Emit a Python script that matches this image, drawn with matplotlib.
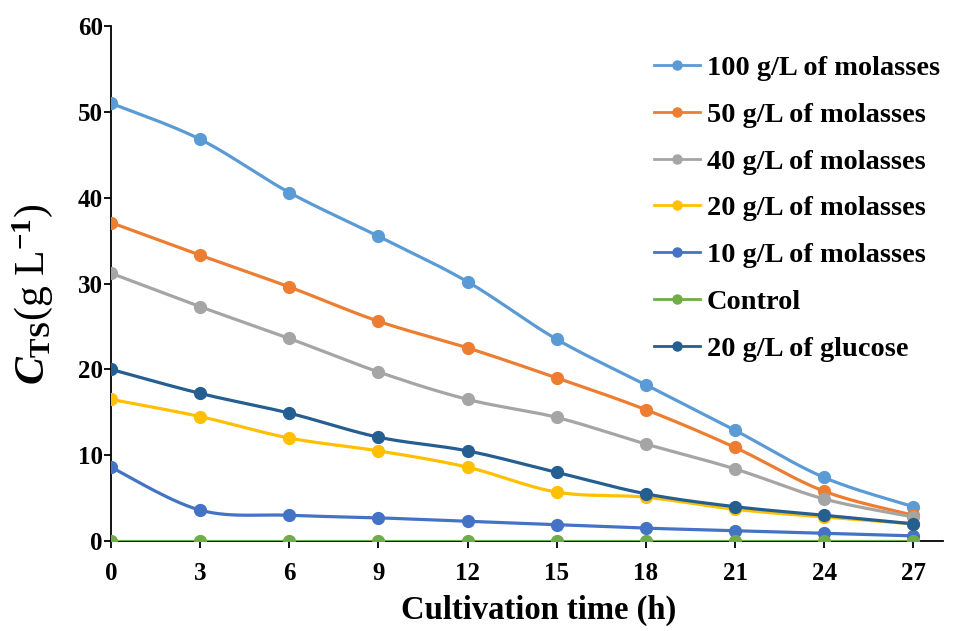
import numpy as np
import matplotlib
matplotlib.use("Agg")
import matplotlib.pyplot as plt

plt.rcParams["font.family"] = ["Liberation Serif", "DejaVu Serif"]
plt.rcParams["font.weight"] = "bold"
plt.rcParams["mathtext.fontset"] = "custom"
plt.rcParams["mathtext.rm"] = "Liberation Serif:bold"
plt.rcParams["mathtext.it"] = "Liberation Serif:italic:bold"
plt.rcParams["mathtext.bf"] = "Liberation Serif:bold"

# dane
time_h = [0, 3, 6, 9, 12, 15, 18, 21, 24, 27]
mol_100 = [51.0, 46.8, 40.6, 35.5, 30.2, 23.5, 18.2, 12.9, 7.4, 4.0]
mol_50 = [37.1, 33.3, 29.6, 25.6, 22.5, 19.0, 15.3, 10.9, 5.8, 3.0]
mol_40 = [31.2, 27.3, 23.6, 19.7, 16.5, 14.4, 11.3, 8.4, 4.9, 2.8]
mol_20 = [16.5, 14.5, 12.0, 10.5, 8.6, 5.7, 5.1, 3.7, 2.8, 2.0]
mol_10 = [8.6, 3.6, 3.0, 2.7, 2.3, 1.9, 1.5, 1.2, 0.9, 0.6]
control = [0, 0, 0, 0, 0, 0, 0, 0, 0, 0]
glucose_20 = [20.0, 17.2, 14.9, 12.1, 10.5, 8.0, 5.5, 4.0, 3.0, 2.0]

labels = ["100 g/L of molasses", "50 g/L of molasses", "40 g/L of molasses",
          "20 g/L of molasses", "10 g/L of molasses", "Control", "20 g/L of glucose"]
series = [mol_100, mol_50, mol_40, mol_20, mol_10, control, glucose_20]
colors = ["#5B9BD5", "#ED7D31", "#A5A5A5", "#FFC000", "#4472C4", "#70AD47", "#255E91"]


def smooth(x, y, n=30):
    """Wygładzanie w stylu Excela (Bezier z punktami kontrolnymi Catmull-Rom)."""
    x = np.asarray(x, float)
    y = np.asarray(y, float)
    xs, ys = [], []
    t = np.linspace(0, 1, n)
    for i in range(len(x) - 1):
        p0 = np.array([x[max(i - 1, 0)], y[max(i - 1, 0)]])
        p1 = np.array([x[i], y[i]])
        p2 = np.array([x[i + 1], y[i + 1]])
        p3 = np.array([x[min(i + 2, len(x) - 1)], y[min(i + 2, len(x) - 1)]])
        c1 = p1 + (p2 - p0) / 6
        c2 = p2 - (p3 - p1) / 6
        b = ((1 - t) ** 3)[:, None] * p1 + (3 * (1 - t) ** 2 * t)[:, None] * c1 \
            + (3 * (1 - t) * t ** 2)[:, None] * c2 + (t ** 3)[:, None] * p2
        xs.extend(b[:, 0])
        ys.extend(b[:, 1])
    return xs, ys


fig = plt.figure(figsize=(9.6, 6.31), dpi=100)
ax = fig.add_axes([0.1156, 0.1426, 0.8667, 0.8162])

for vals, lab, col in zip(series, labels, colors):
    sx, sy = smooth(time_h, vals)
    ax.plot(sx, sy, color=col, lw=2.3, zorder=3)
    ax.plot(time_h, vals, "o", color=col, ms=8.5, zorder=4)
    ax.plot([], [], color=col, lw=2.0, marker="o", ms=6.5, label=lab)

ax.set_xlim(0, 28)
ax.set_ylim(0, 60)
ax.set_xticks(time_h)
ax.set_yticks(range(0, 61, 10))
ax.tick_params(axis="both", labelsize=18, direction="out", length=5, width=1.3)
ax.tick_params(axis="x", pad=10)
ax.tick_params(axis="y", pad=1)
for lbl in ax.get_xticklabels() + ax.get_yticklabels():
    lbl.set_fontweight("bold")

for side in ["top", "right"]:
    ax.spines[side].set_visible(False)
ax.spines["left"].set_linewidth(1.3)
ax.spines["bottom"].set_linewidth(1.3)

ax.set_xlabel("Cultivation time (h)", fontsize=23.5, fontweight="bold")
ax.xaxis.set_label_coords(0.514, -0.104)
ax.set_ylabel(r"$\mathit{C}_{\mathrm{TS}}$(g L$^{\mathrm{-1}}$)", fontsize=30)
ax.yaxis.set_label_coords(-0.067, 0.478)

ax.legend(loc="upper right", bbox_to_anchor=(1.027, 0.993), frameon=False,
          prop={"size": 20.4, "weight": "bold"}, handlelength=1.6,
          handletextpad=0.25, labelspacing=0.74)

plt.savefig("out.png", dpi=100)
